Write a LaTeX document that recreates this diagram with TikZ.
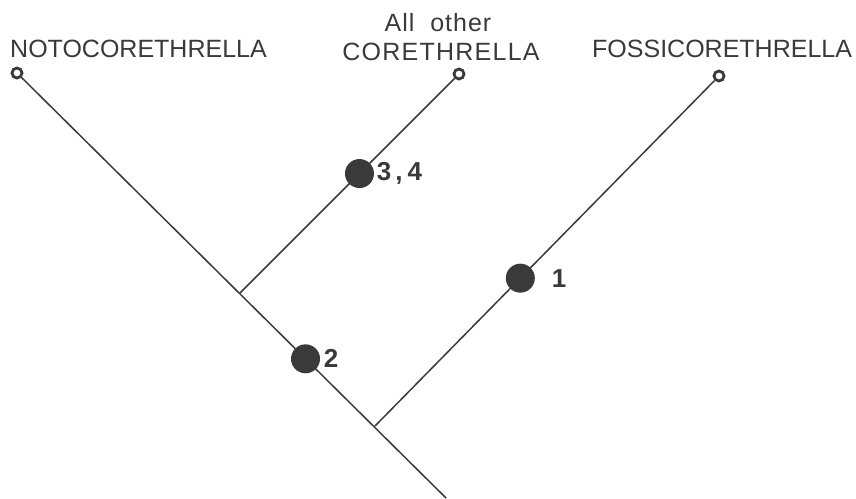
\documentclass[tikz,border=0pt]{standalone}
\usepackage{fontspec}
\setmainfont{Liberation Sans}
\definecolor{ink}{HTML}{3A3A3A}
\begin{document}
\begin{tikzpicture}[x=1pt,y=-1pt,
  branch/.style={draw=ink,line width=1.5pt},
  tip/.style={circle,draw=ink,fill=white,line width=2.8pt,inner sep=0pt,minimum size=10pt},
  dot/.style={circle,fill=ink,inner sep=0pt,minimum size=29pt},
  taxon/.style={text=ink,font=\fontsize{25}{28}\selectfont,inner sep=0pt},
  num/.style={text=ink,font=\fontsize{26}{28}\selectfont\bfseries,inner sep=0pt,anchor=west}]
\useasboundingbox (0,0) rectangle (856,498);
% taxa labels
\node[taxon,anchor=base west] (tN) at (10,57) {NOTOCORETHRELLA};
\node[taxon,anchor=base] (tO1) at (438,31) {\addfontfeature{LetterSpace=4}All\ \ other};
\node[taxon,anchor=base] (tO2) at (441,60) {\addfontfeature{LetterSpace=5}CORETHRELLA};
\node[taxon,anchor=base west] (tF) at (592,57) {FOSSICORETHRELLA};
% tips
\node[tip] (pN) at (17,73) {};
\node[tip] (pO) at (459,74) {};
\node[tip] (pF) at (719,76) {};
% junctions and root
\coordinate (A) at (240,293);
\coordinate (B) at (375,426);
\coordinate (R) at (446,498);
% branches
\draw[branch] (pN) -- node[dot,pos=0.669] (d2) {} (R);
\draw[branch] (A) -- node[dot,pos=0.557] (d34) {} (pO);
\draw[branch] (B) -- node[dot,pos=0.428] (d1) {} (pF);
% character labels
\node[num] (l34) at ([xshift=2pt]d34.east) {3\hspace{4pt},\hspace{5pt}4};
\node[num] (l2) at ([xshift=3pt]d2.east) {2};
\node[num] (l1) at ([xshift=16pt]d1.east) {1};
\end{tikzpicture}
\end{document}
